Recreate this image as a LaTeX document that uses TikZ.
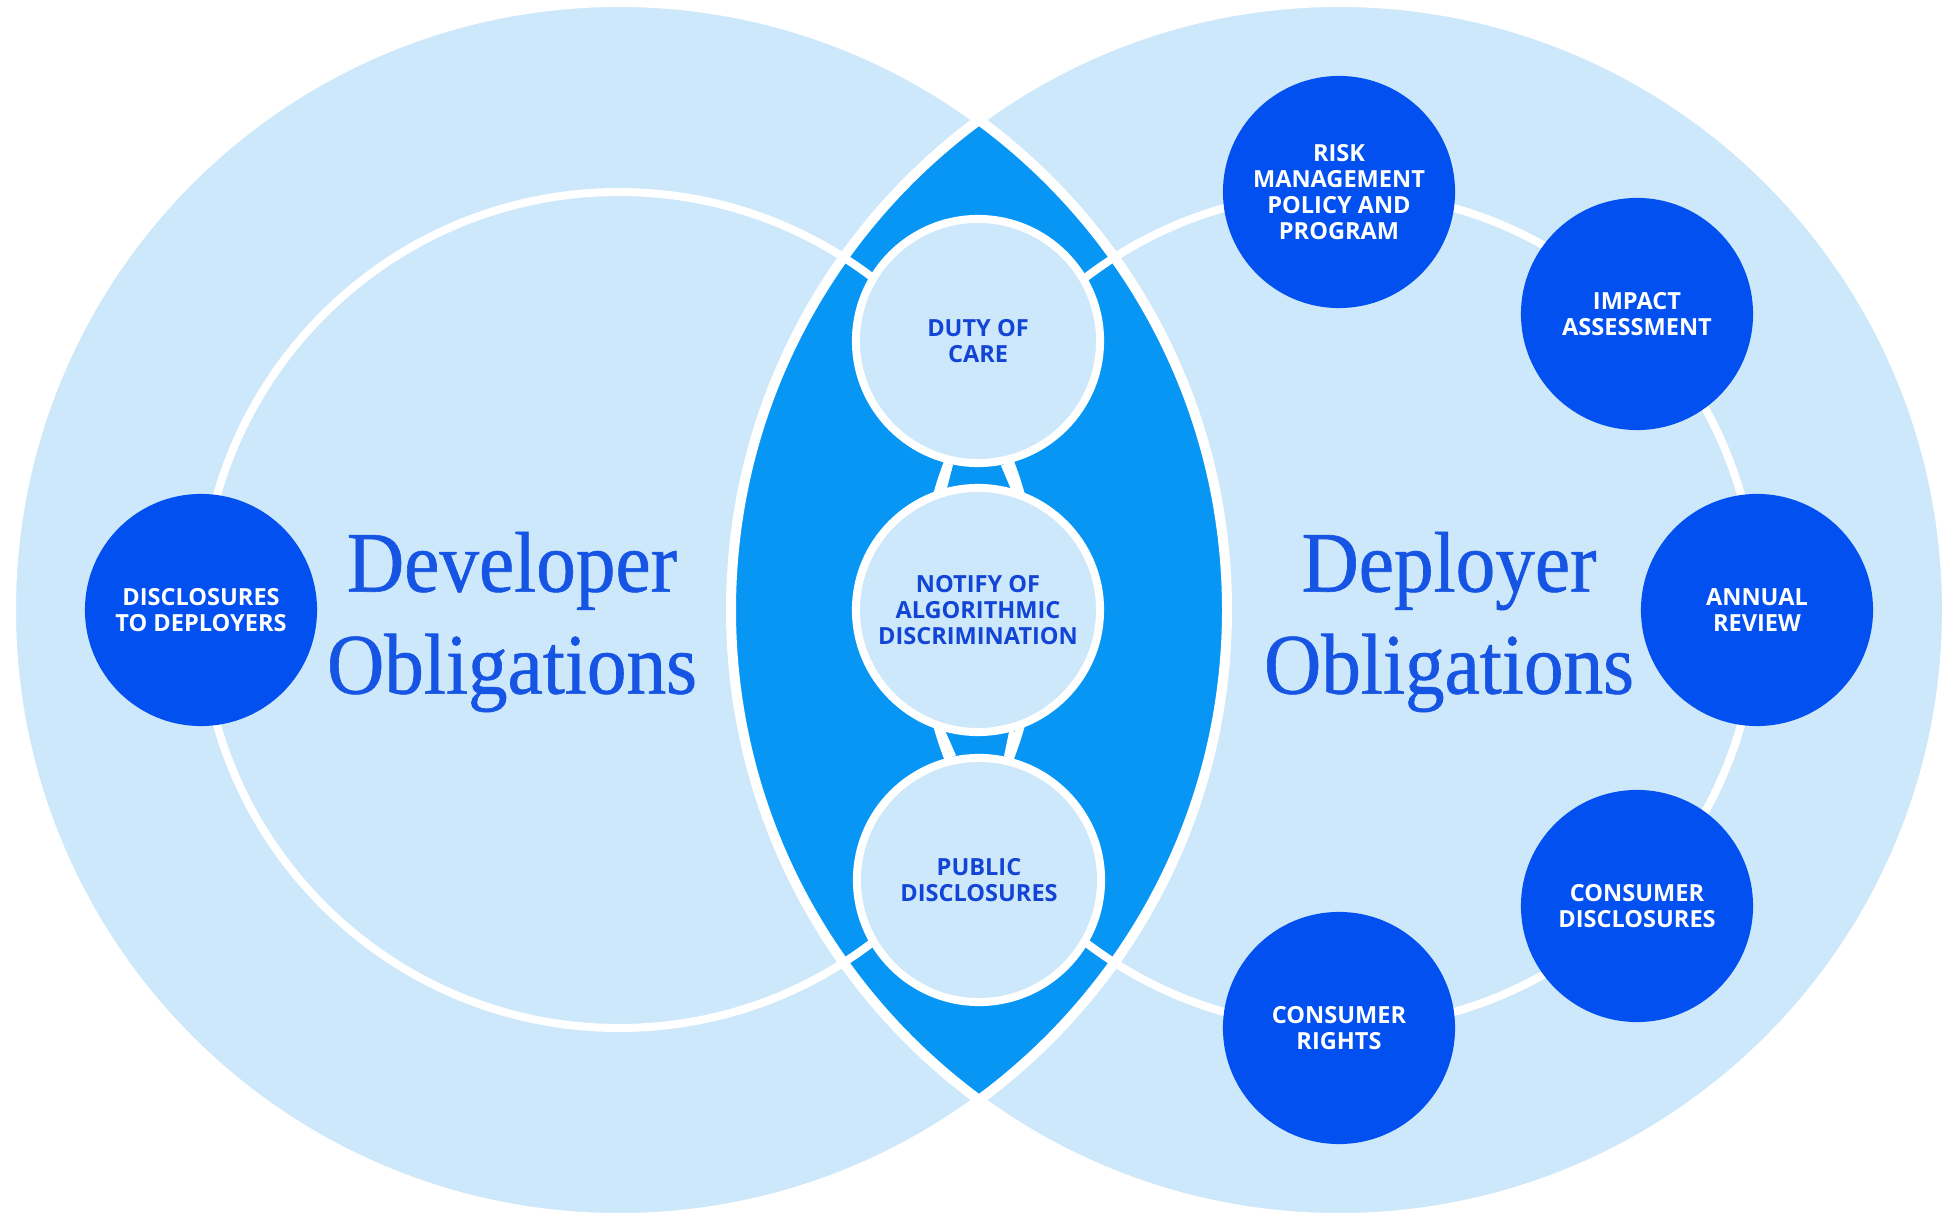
\documentclass[tikz,border=0pt]{standalone}
\usepackage{fontspec}
\newfontfamily\labelfont{Open Sans}
\newfontfamily\titlefont{Liberation Serif}[FakeStretch=0.92,FakeBold=0.7]
\definecolor{pale}{RGB}{204,232,250}
\definecolor{lensblue}{RGB}{8,150,245}
\definecolor{royal}{RGB}{2,80,240}
\definecolor{ink}{RGB}{18,68,214}
\definecolor{headblue}{RGB}{22,84,228}
\begin{document}
\begin{tikzpicture}[x=0.01cm,y=-0.01cm,
  lensnode/.style={circle, draw=white, line width=0.08cm, fill=pale,
    minimum size=2.44cm, inner sep=0pt, align=center, text=ink,
    font={\labelfont\bfseries\fontsize{6.7pt}{7.4pt}\selectfont}},
  darknode/.style={circle, fill=royal, minimum size=2.32cm, inner sep=0pt,
    align=center, text=white,
    font={\labelfont\bfseries\fontsize{6.7pt}{7.4pt}\selectfont}},
  title/.style={align=center, text=headblue,
    font={\titlefont\fontsize{24.5pt}{29pt}\selectfont}},
  ring/.style={draw=white, line width=0.08cm},
  bridge/.style={draw=white, line width=0.07cm}]

% canvas
\fill[white] (0,0) rectangle (1954,1219);
\useasboundingbox (0,0) rectangle (1954,1219);

% the two large discs
\fill[pale] (619,610) circle[radius=608];
\fill[pale] (1339,610) circle[radius=608];
% their overlap
\begin{scope}
  \clip (619,610) circle[radius=608];
  \fill[lensblue] (1339,610) circle[radius=608];
\end{scope}
\draw[white, line width=0.1cm] (619,610) circle[radius=608];
\draw[white, line width=0.1cm] (1339,610) circle[radius=608];

% inner rings carrying the obligations
\draw[ring] (619,610) circle[radius=418];
\draw[ring] (1339,610) circle[radius=418];

% shared obligations
\node[lensnode] (duty)   at (978,341) {DUTY OF\\CARE};
\node[lensnode] (notify) at (978,610) {NOTIFY OF\\ALGORITHMIC\\DISCRIMINATION};
\node[lensnode] (public) at (979,880) {PUBLIC\\DISCLOSURES};

\draw[bridge] (duty.257.8) -- (notify.106.3);
\draw[bridge] (duty.282.2) -- (notify.73.7);
\draw[bridge] (notify.253.7) -- (public.102.5);
\draw[bridge] (notify.286.3) -- (public.77.5);

% developer side
\node[darknode] (devdisc) at (201,610) {DISCLOSURES\\TO DEPLOYERS};
\node[title] (devtitle) at (512,622) {Developer\\Obligations};

% deployer side
\node[darknode] (risk)     at (1339,192)  {RISK\\MANAGEMENT\\POLICY AND\\PROGRAM};
\node[darknode] (impact)   at (1637,314)  {IMPACT\\ASSESSMENT};
\node[darknode] (annual)   at (1757,610)  {ANNUAL\\REVIEW};
\node[darknode] (consdisc) at (1637,906)  {CONSUMER\\DISCLOSURES};
\node[darknode] (rights)   at (1339,1028) {CONSUMER\\RIGHTS};
\node[title] (deptitle) at (1449,622) {Deployer\\Obligations};
\end{tikzpicture}
\end{document}
